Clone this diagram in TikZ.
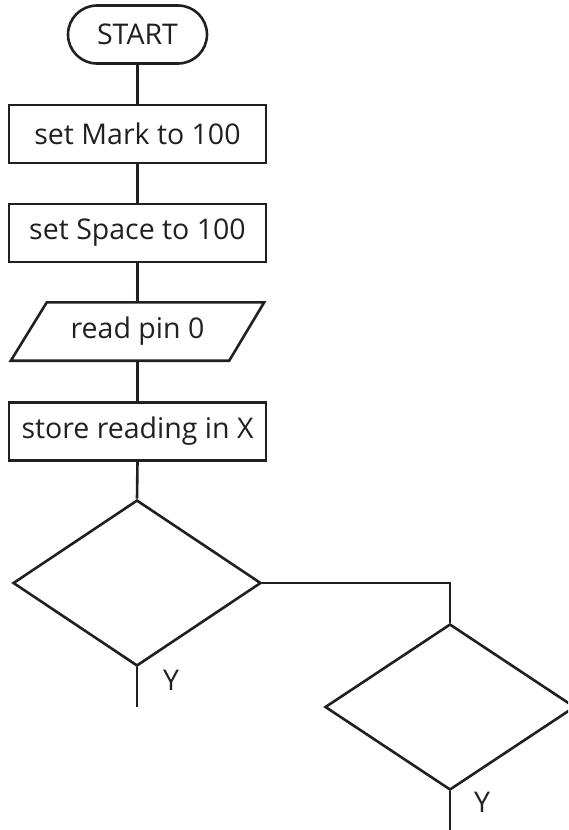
\documentclass[tikz,border=0pt]{standalone}
\usepackage{fontspec}
\setmainfont{Open Sans}
\usetikzlibrary{shapes.geometric}
\definecolor{ink}{HTML}{231F20}
\begin{document}
\begin{tikzpicture}[x=1pt,y=-1pt,
  every node/.style={font=\fontsize{28.5}{34}\selectfont, text=ink},
  line/.style={draw=ink, line width=2.6pt},
  procbox/.style={draw=ink, line width=2.6pt, rectangle, minimum width=257pt, minimum height=58pt, inner sep=0pt},
  termbox/.style={draw=ink, line width=2.6pt, rectangle, rounded corners=29pt, minimum width=139pt, minimum height=58pt, inner sep=0pt},
  iobox/.style={rectangle, minimum width=253pt, minimum height=58pt, inner sep=0pt},
  decbox/.style={draw=ink, line width=2.6pt, diamond, inner sep=0pt, minimum width=248pt, minimum height=166pt},
  lab/.style={inner sep=0pt}
]
\useasboundingbox (0,0) rectangle (568,830);
\clip (0,0) rectangle (568,830);
\node[termbox] (start) at (137.5,34.5) {START};
\node[procbox] (mark) at (137.5,134) {set Mark to 100};
\node[procbox] (space) at (137.5,233) {set Space to 100};
\node[iobox] (read) at (137.5,331.5) {read pin 0};
\draw[line] ([xshift=36pt]read.north west) -- (read.north east) -- ([xshift=-35pt]read.south east) -- (read.south west) -- cycle;
\node[procbox] (store) at (137.5,431.5) {store reading in X};
\node[decbox] (dec1) at (137,583) {};
\node[decbox, minimum width=250pt] (dec2) at (450,707) {};
\coordinate (end1) at (137,707);
\coordinate (end2) at (450,832);
\node[lab] (y1) at (171,680) {Y};
\node[lab] (y2) at (482,802) {Y};
\draw[line] (start.south) -- (mark.north);
\draw[line] (mark.south) -- (space.north);
\draw[line] (space.south) -- (read.north);
\draw[line] (read.south) -- (store.north);
\draw[line] (store.south) -- (dec1.north);
\draw[line] (dec1.east) -| (dec2.north);
\draw[line] (dec1.south) -- (end1);
\draw[line] (dec2.south) -- (end2);
\end{tikzpicture}
\end{document}
